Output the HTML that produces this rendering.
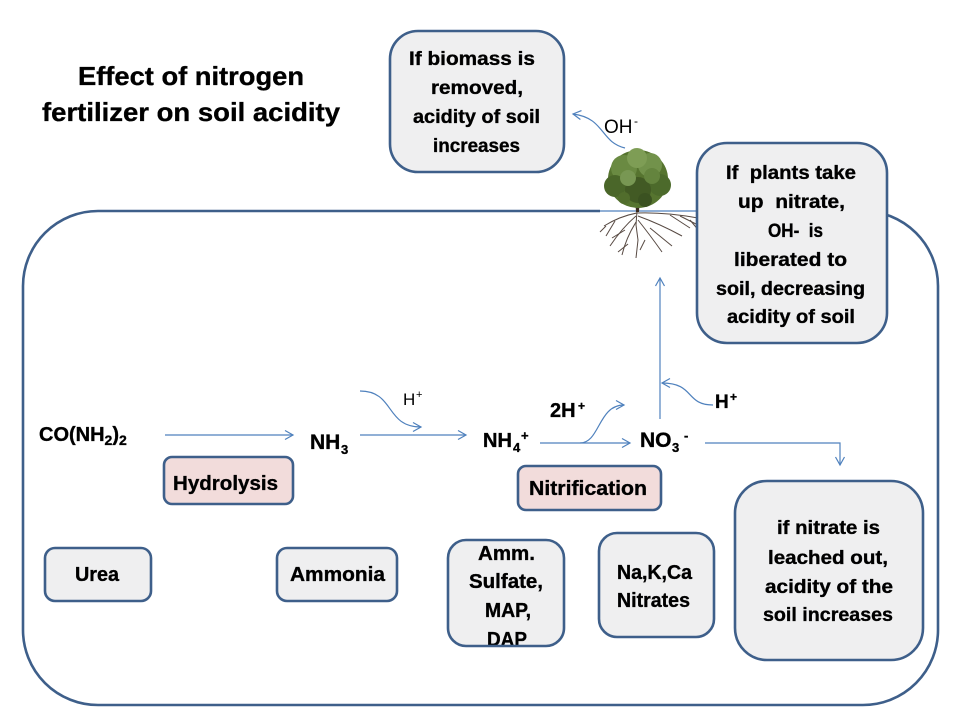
<!DOCTYPE html>
<html><head><meta charset="utf-8"><style>
html,body{margin:0;padding:0;background:#fff;}
svg{display:block;}
text{font-family:"Liberation Sans",Arial,sans-serif;fill:#000;white-space:pre;}
.b{font-weight:bold;stroke:#000;stroke-width:0.35;}
</style></head><body>
<svg width="960" height="720" viewBox="0 0 960 720" xmlns="http://www.w3.org/2000/svg">
<defs>
<marker id="a" markerWidth="12" markerHeight="12" refX="10" refY="6" orient="auto" markerUnits="userSpaceOnUse">
<path d="M2,1.5 L10,6 L2,10.5" fill="none" stroke="#4F81BD" stroke-width="1.2"/>
</marker>
</defs>

<!-- Title -->
<text class="b" x="78" y="85" font-size="26" textLength="226" lengthAdjust="spacingAndGlyphs">Effect of nitrogen</text>
<text class="b" x="42" y="121" font-size="26" textLength="298" lengthAdjust="spacingAndGlyphs">fertilizer on soil acidity</text>

<!-- Outer soil box -->
<path d="M600,211 L98,211 A75,75 0 0 0 23,286 L23,630 A75,75 0 0 0 98,705 L863,705 A75,75 0 0 0 938,630 L938,286 A75,75 0 0 0 863,211" fill="none" stroke="#3E5F8A" stroke-width="2.6"/>
<line x1="600" y1="211" x2="700" y2="211" stroke="#4F81BD" stroke-width="1.2"/>

<!-- Tree roots -->
<g stroke="#3a2a22" stroke-width="1" fill="none" opacity="0.85">
<path d="M637,211 L636,225 L638,240 L636,258"/>
<path d="M637,213 Q620,216 604,226"/>
<path d="M636,216 Q622,228 610,246"/>
<path d="M637,213 Q665,212 698,218"/>
<path d="M638,216 Q660,224 682,236"/>
<path d="M638,220 Q650,235 662,252"/>
<path d="M636,222 Q626,238 622,255"/>
<path d="M615,221 L606,236"/>
<path d="M670,215 L690,228"/>
<path d="M650,228 L672,246"/>
<path d="M625,230 L612,238"/>
<path d="M680,216 L700,226"/>
<path d="M628,244 L618,252"/>
<path d="M606,226 L600,232"/>
<path d="M690,220 L700,232"/>
<path d="M645,240 L640,250"/>
</g>
<!-- Trunk -->
<path d="M635,195 L636,212 L639,212 L640,195 Z" fill="#3b2b20"/>
<!-- Canopy -->
<g>
<ellipse cx="638" cy="179" rx="30" ry="29" fill="#56742f"/>
<circle cx="624" cy="168" r="13" fill="#6a8a42"/>
<circle cx="650" cy="165" r="12" fill="#72924b"/>
<circle cx="637" cy="158" r="10" fill="#7e9d55"/>
<circle cx="615" cy="186" r="11" fill="#4a6629"/>
<circle cx="660" cy="185" r="11" fill="#4c6a2b"/>
<circle cx="638" cy="190" r="13" fill="#425a24"/>
<circle cx="628" cy="178" r="8" fill="#789753"/>
<circle cx="652" cy="176" r="8" fill="#64843e"/>
<circle cx="645" cy="200" r="7" fill="#3b5221"/>
<circle cx="624" cy="198" r="6" fill="#516d2c"/>
</g>

<!-- Connectors -->
<g fill="none" stroke="#4F81BD" stroke-width="1.2">
<line x1="165" y1="435" x2="293" y2="435" marker-end="url(#a)"/>
<line x1="360" y1="435" x2="466" y2="435" marker-end="url(#a)"/>
<path d="M360,391 C395,391 385,427 421,427" marker-end="url(#a)"/>
<line x1="540" y1="443" x2="630" y2="443" marker-end="url(#a)"/>
<path d="M580,443 C600,443 598,405 624,405" marker-end="url(#a)"/>
<line x1="660" y1="419" x2="660" y2="278" marker-end="url(#a)"/>
<path d="M713,405 C685,405 695,383 662,383" marker-end="url(#a)"/>
<path d="M705,443 L840,443 L840,465" marker-end="url(#a)"/>
<path d="M625,148 C600,142 605,118 573,114" marker-end="url(#a)"/>
</g>

<!-- Box 1 -->
<rect x="390" y="31" width="174" height="141" rx="28" fill="#EFEFF0" stroke="#3E5F8A" stroke-width="2.6"/>
<text class="b" x="409" y="65" font-size="19" textLength="126" lengthAdjust="spacingAndGlyphs">If biomass is</text>
<text class="b" x="431" y="94" font-size="19" textLength="92" lengthAdjust="spacingAndGlyphs">removed,</text>
<text class="b" x="413" y="123" font-size="19" textLength="127" lengthAdjust="spacingAndGlyphs">acidity of soil</text>
<text class="b" x="433" y="152" font-size="19" textLength="87" lengthAdjust="spacingAndGlyphs">increases</text>

<!-- OH- -->
<text x="604" y="133" font-size="19">OH</text>
<text x="634" y="125" font-size="12">-</text>

<!-- Box 2 -->
<rect x="697" y="143" width="190" height="200" rx="30" fill="#EFEFF0" stroke="#3E5F8A" stroke-width="2.6"/>
<text class="b" x="726" y="179" font-size="19" textLength="130" lengthAdjust="spacingAndGlyphs">If  plants take</text>
<text class="b" x="738" y="208" font-size="19" textLength="107" lengthAdjust="spacingAndGlyphs">up  nitrate,</text>
<text class="b" x="768" y="237" font-size="19" textLength="55" lengthAdjust="spacingAndGlyphs">OH-  is</text>
<text class="b" x="734" y="266" font-size="19" textLength="113" lengthAdjust="spacingAndGlyphs">liberated to</text>
<text class="b" x="716" y="295" font-size="19" textLength="149" lengthAdjust="spacingAndGlyphs">soil, decreasing</text>
<text class="b" x="727" y="323" font-size="19" textLength="128" lengthAdjust="spacingAndGlyphs">acidity of soil</text>

<!-- Box 3 -->
<rect x="735" y="481" width="188" height="179" rx="32" fill="#EFEFF0" stroke="#3E5F8A" stroke-width="2.6"/>
<text class="b" x="777" y="534" font-size="19" textLength="103" lengthAdjust="spacingAndGlyphs">if nitrate is</text>
<text class="b" x="768" y="564" font-size="19" textLength="120" lengthAdjust="spacingAndGlyphs">leached out,</text>
<text class="b" x="765" y="593" font-size="19" textLength="128" lengthAdjust="spacingAndGlyphs">acidity of the</text>
<text class="b" x="763" y="621" font-size="19" textLength="130" lengthAdjust="spacingAndGlyphs">soil increases</text>

<!-- Chemistry labels -->
<text class="b" x="39" y="441" font-size="20">CO(NH<tspan dy="4" font-size="14">2</tspan><tspan dy="-4" font-size="20">)</tspan><tspan dy="4" font-size="14">2</tspan></text>
<text class="b" x="310" y="449" font-size="21">NH</text>
<text class="b" x="341" y="454" font-size="13">3</text>
<text class="b" x="483" y="447" font-size="20">NH</text>
<text class="b" x="513" y="452" font-size="13">4</text>
<text class="b" x="521" y="440" font-size="13">+</text>
<text class="b" x="640" y="447" font-size="21">NO</text>
<text class="b" x="672" y="452" font-size="13">3</text>
<text class="b" x="684" y="440" font-size="13">-</text>
<text class="b" x="550" y="417" font-size="20">2H</text>
<text class="b" x="578" y="410" font-size="12">+</text>
<text class="b" x="715" y="408" font-size="19">H</text>
<text class="b" x="730" y="401" font-size="12">+</text>
<text x="403" y="405" font-size="17">H</text>
<text x="416" y="398" font-size="11">+</text>

<!-- Hydrolysis -->
<rect x="164" y="457" width="129" height="47" rx="8" fill="#F2DCDB" stroke="#3E5F8A" stroke-width="2.6"/>
<text class="b" x="173" y="490" font-size="20" textLength="105" lengthAdjust="spacingAndGlyphs">Hydrolysis</text>

<!-- Nitrification -->
<rect x="518" y="466" width="143" height="44" rx="8" fill="#F2DCDB" stroke="#3E5F8A" stroke-width="2.6"/>
<text class="b" x="529" y="495" font-size="20" textLength="118" lengthAdjust="spacingAndGlyphs">Nitrification</text>

<!-- Bottom boxes -->
<rect x="45" y="548" width="106" height="53" rx="10" fill="#EFEFF0" stroke="#3E5F8A" stroke-width="2.6"/>
<text class="b" x="75" y="581" font-size="20" textLength="44" lengthAdjust="spacingAndGlyphs">Urea</text>

<rect x="277" y="548" width="120" height="53" rx="10" fill="#EFEFF0" stroke="#3E5F8A" stroke-width="2.6"/>
<text class="b" x="290" y="581" font-size="20" textLength="95" lengthAdjust="spacingAndGlyphs">Ammonia</text>

<rect x="448" y="540" width="116" height="106" rx="18" fill="#EFEFF0"/>
<text class="b" x="478" y="560" font-size="20" textLength="57" lengthAdjust="spacingAndGlyphs">Amm.</text>
<text class="b" x="469" y="588" font-size="20" textLength="74" lengthAdjust="spacingAndGlyphs">Sulfate,</text>
<text class="b" x="485" y="617" font-size="20" textLength="46" lengthAdjust="spacingAndGlyphs">MAP,</text>
<text class="b" x="487" y="646" font-size="20" textLength="40" lengthAdjust="spacingAndGlyphs">DAP</text>
<rect x="448" y="540" width="116" height="106" rx="18" fill="none" stroke="#3E5F8A" stroke-width="2.6"/>

<rect x="599" y="533" width="115" height="104" rx="18" fill="#EFEFF0" stroke="#3E5F8A" stroke-width="2.6"/>
<text class="b" x="617" y="579" font-size="20" textLength="75" lengthAdjust="spacingAndGlyphs">Na,K,Ca</text>
<text class="b" x="617" y="607" font-size="20" textLength="73" lengthAdjust="spacingAndGlyphs">Nitrates</text>
</svg>
</body></html>
